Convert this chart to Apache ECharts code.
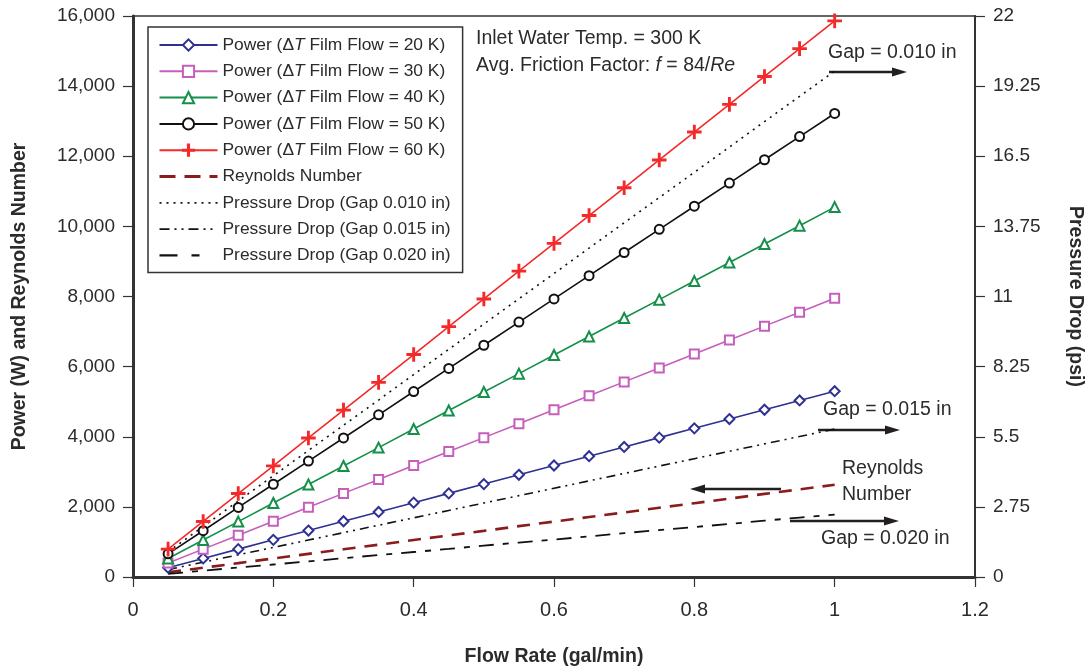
<!DOCTYPE html>
<html><head><meta charset="utf-8">
<script src="https://cdn.jsdelivr.net/npm/echarts@6/dist/echarts.min.js"></script>
<style>html,body{margin:0;padding:0;background:#fff}#c{width:1089px;height:668px}</style>
</head><body><div id="c"></div>
<script>
const flow = [0.05,0.10,0.15,0.20,0.25,0.30,0.35,0.40,0.45,0.50,0.55,0.60,0.65,0.70,0.75,0.80,0.85,0.90,0.95,1.00];
const power20 = [265,530,795,1060,1325,1590,1855,2120,2385,2650,2915,3180,3445,3710,3975,4240,4505,4770,5035,5300];
const power30 = [400,795,1190,1590,1990,2385,2780,3180,3580,3975,4370,4770,5170,5565,5960,6360,6760,7155,7550,7950];
const power40 = [530,1055,1580,2110,2640,3165,3690,4220,4750,5275,5800,6330,6860,7385,7910,8440,8970,9495,10020,10550];
const power50 = [660,1320,1985,2645,3305,3965,4625,5290,5950,6610,7270,7930,8595,9255,9915,10575,11235,11900,12560,13220];
const power60 = [795,1585,2380,3170,3965,4760,5550,6345,7140,7930,8725,9515,10310,11100,11895,12690,13480,14275,15070,15860];
const reynolds = [135,265,395,530,660,790,920,1055,1185,1315,1450,1580,1710,1840,1975,2105,2235,2370,2500,2630];
const dp010 = [0.99,1.98,2.98,3.97,4.96,5.95,6.94,7.94,8.93,9.92,10.91,11.90,12.90,13.89,14.88,15.87,16.86,17.86,18.85,19.84];
const dp015 = [0.29,0.58,0.87,1.16,1.45,1.74,2.03,2.32,2.61,2.90,3.19,3.48,3.77,4.06,4.35,4.64,4.93,5.22,5.51,5.80];
const dp020 = [0.12,0.25,0.37,0.49,0.61,0.74,0.86,0.98,1.10,1.23,1.35,1.47,1.59,1.72,1.84,1.96,2.08,2.21,2.33,2.45];
const seriesNames = ['Power (ΔT Film Flow = 20 K)','Power (ΔT Film Flow = 30 K)','Power (ΔT Film Flow = 40 K)','Power (ΔT Film Flow = 50 K)','Power (ΔT Film Flow = 60 K)','Reynolds Number','Pressure Drop (Gap 0.010 in)','Pressure Drop (Gap 0.015 in)','Pressure Drop (Gap 0.020 in)'];
const leftTicks = [0,2000,4000,6000,8000,10000,12000,14000,16000];
const rightTicks = [0,2.75,5.5,8.25,11,13.75,16.5,19.25,22];

const pair = a => flow.map((x,i)=>[x,a[i]]);
const FONT = 'Liberation Sans, Arial, sans-serif';
const NARROW = '"Liberation Sans Narrow", "Arial Narrow", Liberation Sans, sans-serif';
const TXT = '#2b2b2b';
const plusPath = 'path://M-0.5,-5H0.5V-0.5H5V0.5H0.5V5H-0.5V0.5H-5V-0.5H-0.5Z';

function pw(name, data, color, symbol, size){
  return {name, type:'line', data:pair(data), yAxisIndex:0, symbol, symbolSize:size, showSymbol:true,
    lineStyle:{color, width:1.6}, itemStyle:{color, borderColor:color, borderWidth:1.6},
    emphasis:{disabled:true}, z:5};
}
function dl(name, data, color, dash, width, yi){
  return {name, type:'line', data:pair(data), yAxisIndex:yi, symbol:'none', showSymbol:false,
    lineStyle:{color, width, type:dash}, itemStyle:{color}, emphasis:{disabled:true}, z:3};
}
const lineStyles = {
  5:{color:'#8b1c1c', width:3, type:[16,9]},
  6:{color:'#111', width:1.8, type:[2,5]},
  7:{color:'#111', width:1.8, type:[10,5,2,5,2,5]},
  8:{color:'#111', width:2.2, type:[18,14,8,20]}
};

const chart = echarts.init(document.getElementById('c'), null, {renderer:'canvas'});
const arrowR = (x1,x2,y)=>[
  {type:'line', shape:{x1:x1,y1:y,x2:x2-12,y2:y}, style:{stroke:'#231f20', lineWidth:2.5}},
  {type:'polygon', shape:{points:[[x2,y],[x2-15,y-4.5],[x2-15,y+4.5]]}, style:{fill:'#231f20'}}];
const arrowL = (x1,x2,y)=>[
  {type:'line', shape:{x1:x1,y1:y,x2:x2+12,y2:y}, style:{stroke:'#231f20', lineWidth:2.5}},
  {type:'polygon', shape:{points:[[x2,y],[x2+15,y-4.5],[x2+15,y+4.5]]}, style:{fill:'#231f20'}}];
const AF = 19.5;
const txt = (x,y,text)=>({type:'text', left:x, top:y, style:{text, fill:TXT, font:AF+'px '+FONT}});

chart.setOption({
  animation:false,
  backgroundColor:'#fff',
  grid:{left:133, right:114, top:16, bottom:91, show:true, borderColor:'#333', borderWidth:1.5, containLabel:false, outerBoundsMode:'none'},
  legend:{
    data:seriesNames.map((n,i)=> i>=5 ? {name:n, itemStyle:{opacity:0}, lineStyle:lineStyles[i]} : n),
    orient:'vertical', left:148, top:27, padding:[9,12,8,10],
    itemWidth:58, itemHeight:14, itemGap:8.3,
    borderColor:'#333', borderWidth:1.5, backgroundColor:'#fff',
    textStyle:{fontFamily:FONT, fontSize:17.4, lineHeight:18, color:TXT, rich:{it:{fontStyle:'italic', fontFamily:FONT, fontSize:17.4, lineHeight:18, color:TXT}}},
    formatter: n => n.replace('ΔT','Δ{it|T}'),
    selectedMode:false
  },
  xAxis:{type:'value', min:0, max:1.2, interval:0.2,
    name:'Flow Rate (gal/min)', nameLocation:'middle', nameGap:70,
    nameTextStyle:{fontFamily:NARROW, fontWeight:'bold', fontSize:19.5, color:TXT},
    axisLine:{onZero:false, lineStyle:{color:'#333', width:3}},
    axisTick:{show:true, inside:false, length:10, lineStyle:{color:'#333', width:1.2}},
    axisLabel:{fontFamily:NARROW, fontSize:20, color:TXT, margin:23, formatter:v=>String(+v.toFixed(1))},
    splitLine:{show:false}},
  yAxis:[
    {type:'value', min:0, max:16000, interval:2000, position:'left',
     name:'Power (W) and Reynolds Number', nameLocation:'middle', nameGap:103,
     nameTextStyle:{fontFamily:NARROW, fontWeight:'bold', fontSize:19.5, color:TXT},
     axisLine:{show:true, lineStyle:{color:'#333', width:3}},
     axisTick:{show:true, length:10, lineStyle:{color:'#333', width:1.2}},
     axisLabel:{fontFamily:FONT, fontSize:19, color:TXT, margin:18,
       formatter:v=>leftTicks.includes(v)?v.toLocaleString('en-US'):''},
     splitLine:{show:false}},
    {type:'value', min:0, max:22, interval:2.75, position:'right',
     name:'Pressure Drop (psi)', nameLocation:'middle', nameGap:90, nameRotate:-90,
     nameTextStyle:{fontFamily:NARROW, fontWeight:'bold', fontSize:19.5, color:TXT},
     axisLine:{show:true, lineStyle:{color:'#333', width:2}},
     axisTick:{show:true, length:10, lineStyle:{color:'#333', width:1.2}},
     axisLabel:{fontFamily:FONT, fontSize:19, color:TXT, margin:18,
       formatter:v=>{const r=rightTicks.find(t=>Math.abs(t-v)<1e-6); return r===undefined?'':String(r);}},
     splitLine:{show:false}}
  ],
  series:[
    pw(seriesNames[0], power20, '#2e3192', 'emptyDiamond', 10),
    pw(seriesNames[1], power30, '#c55fbb', 'emptyRect', 9),
    pw(seriesNames[2], power40, '#15904a', 'emptyTriangle', 10),
    pw(seriesNames[3], power50, '#111111', 'emptyCircle', 9),
    pw(seriesNames[4], power60, '#f42a2a', plusPath, 13),
    dl(seriesNames[5], reynolds, '#8b1c1c', [13,9], 2.6, 0),
    dl(seriesNames[6], dp010, '#111', [2,5], 1.6, 1),
    dl(seriesNames[7], dp015, '#111', [9,5,2,5,2,5], 1.6, 1),
    dl(seriesNames[8], dp020, '#111', [15,9,6,9], 1.8, 1)
  ],
  graphic:[
    txt(476,29,'Inlet Water Temp. = 300 K'),
    {type:'text', left:476, top:56, style:{text:'Avg. Friction Factor: {i|f} = 84/{i|Re}', fill:TXT, font:AF+'px '+FONT,
      rich:{i:{fontStyle:'italic', fontFamily:FONT, fontSize:AF, fill:TXT, color:TXT}}}},
    txt(828,43,'Gap = 0.010 in'),
    txt(823,400,'Gap = 0.015 in'),
    txt(842,459,'Reynolds'),
    txt(842,485,'Number'),
    txt(821,529,'Gap = 0.020 in'),
    ...arrowR(829,907,72),
    ...arrowR(818,900,430),
    ...arrowL(781,690,489),
    ...arrowR(790,899,521)
  ]
});
</script></body></html>
